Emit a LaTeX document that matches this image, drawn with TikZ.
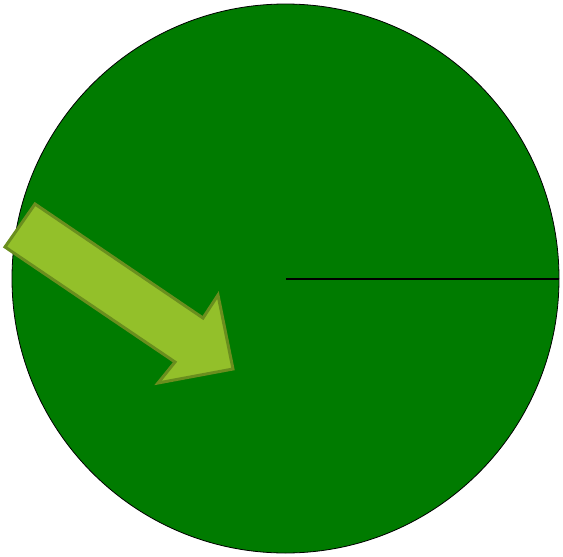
\documentclass[tikz,border=0pt]{standalone}
\definecolor{disc}{RGB}{0,123,0}
\definecolor{arrowfill}{RGB}{147,192,42}
\definecolor{arrowedge}{RGB}{106,142,30}
\tikzset{
  discstyle/.style={fill=disc,draw=black,line width=0.8pt},
  radiusline/.style={draw=black,line width=1.6pt},
  bigarrow/.style={fill=arrowfill,draw=arrowedge,line width=3pt,line join=miter}
}
\begin{document}
\begin{tikzpicture}[x=1pt,y=-1pt]
\useasboundingbox (0,0) rectangle (563,557);
\path[discstyle] (285.5,278.5) ellipse [x radius=273.5, y radius=274.5];
\coordinate (c) at (286,279);
\coordinate (e) at (559,279);
\draw[radiusline] (c) -- (e);
\path[bigarrow] (35,204) -- (5,247) -- (175,362) -- (158,383) -- (233,369) -- (218,295) -- (203,318) -- cycle;
\end{tikzpicture}
\end{document}
